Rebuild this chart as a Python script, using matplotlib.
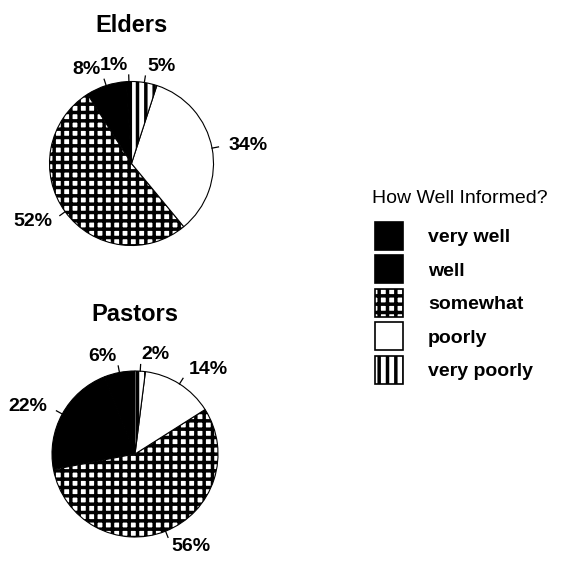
import numpy as np
import matplotlib
matplotlib.use('Agg')
import matplotlib.pyplot as plt
from matplotlib.patches import Patch

plt.rcParams['font.family'] = ['Liberation Sans', 'DejaVu Sans']
plt.rcParams['hatch.linewidth'] = 2.5

categories = ['very well', 'well', 'somewhat', 'poorly', 'very poorly']
elders = [1, 8, 52, 34, 5]
pastors = [6, 22, 56, 14, 2]
groups = ['Elders', 'Pastors']

faces = ['black', 'black', 'white', 'white', 'white']
hatches = [None, None, '++', None, '||']

W, H = 567, 561
fig = plt.figure(figsize=(W / 100, H / 100), dpi=100)


def pie_axes(cx, cy, r):
    # axes placed by pixel centre / radius of the pie
    return fig.add_axes([(cx - r) / W, 1 - (cy + r) / H, 2 * r / W, 2 * r / H])


def draw_pie(ax, values, title):
    wedges, texts = ax.pie(values, labels=[f'{v}%' for v in values],
                           startangle=90, counterclock=True,
                           colors=faces, labeldistance=1.2,
                           wedgeprops=dict(edgecolor='black', linewidth=0.8),
                           textprops=dict(fontsize=14, fontweight='bold'))
    for w, h in zip(wedges, hatches):
        if h:
            w.set_hatch(h)
    # short leader ticks at each slice's mid-angle
    for w in wedges:
        a = np.deg2rad((w.theta1 + w.theta2) / 2)
        ax.plot([np.cos(a), 1.08 * np.cos(a)], [np.sin(a), 1.08 * np.sin(a)],
                color='black', lw=0.9, clip_on=False)
    ax.set_xlim(-1, 1)
    ax.set_ylim(-1, 1)
    ax.set_title(title, fontsize=17, fontweight='bold', pad=36)


ax1 = pie_axes(131.5, 163.5, 82)
draw_pie(ax1, elders, groups[0])
ax2 = pie_axes(135, 454, 83)
draw_pie(ax2, pastors, groups[1])

handles = [Patch(facecolor=f, edgecolor='black', hatch=h, linewidth=1.2)
           for f, h in zip(faces, hatches)]
fig.text(460 / W, 1 - 198 / H, 'How Well Informed?', fontsize=14,
         ha='center', va='center')
leg = fig.legend(handles, categories,
                 loc='upper left', bbox_to_anchor=(375 / W, 1 - 222 / H),
                 frameon=False, borderpad=0, borderaxespad=0,
                 handlelength=1.45, handleheight=1.84,
                 handletextpad=1.27, labelspacing=0.28,
                 prop=dict(size=14, weight='bold'))

plt.savefig('out.png', dpi=100)
